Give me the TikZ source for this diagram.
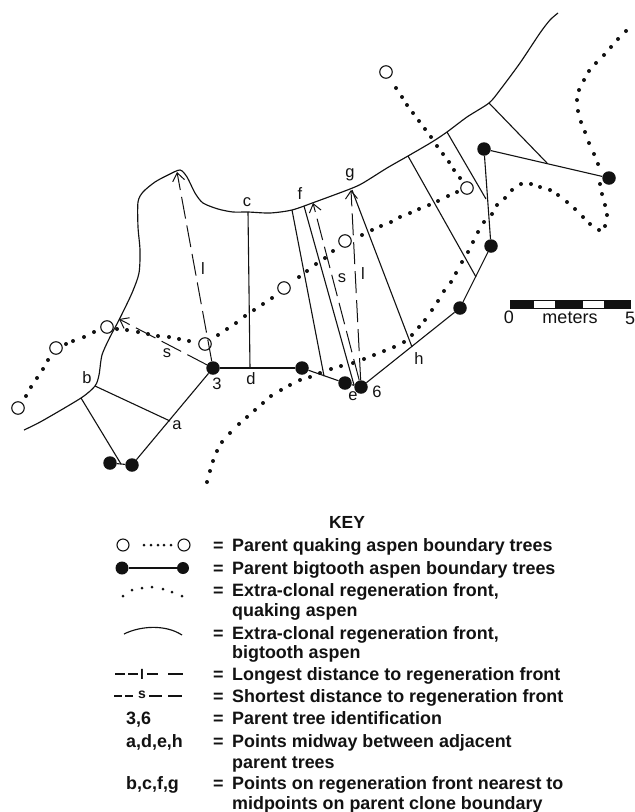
\documentclass[tikz,border=0pt]{standalone}
\usepackage{fontspec}
\setmainfont{Liberation Sans}
\usetikzlibrary{arrows.meta}
\definecolor{ink}{gray}{0.07}
\tikzset{
  x=1pt,y=-1pt,
  every node/.style={text=ink},
  hollowtree/.style={circle,draw=ink,fill=white,line width=1.1pt,minimum size=12.5pt,inner sep=0pt},
  bigtree/.style={circle,fill=ink,minimum size=13.5pt,inner sep=0pt},
  bigsmall/.style={circle,fill=ink,minimum size=12pt,inner sep=0pt},
  hollowsmall/.style={circle,draw=ink,fill=white,line width=1.1pt,minimum size=12pt,inner sep=0pt},
  frontline/.style={draw=ink,line width=1.15pt,line join=round},
  thinline/.style={draw=ink,line width=1.1pt},
  longdash/.style={draw=ink,line width=1pt,dash pattern=on 22pt off 7pt,-{Straight Barb[length=8pt,width=12pt,line width=1pt]}},
  keydash/.style={draw=ink,line width=1.1pt},
  maplabel/.style={font=\fontsize{16.5}{16.5}\selectfont,inner sep=0pt},
  scalelabel/.style={font=\fontsize{18}{18}\selectfont,inner sep=0pt},
  keytext/.style={font=\bfseries\fontsize{17.9}{20}\selectfont,anchor=base west,inner sep=0pt},
}
\newcommand{\dotsat}[1]{\foreach \p in {#1}{\fill[ink] \p circle (2pt);}}
\newcommand{\keydotsat}[1]{\foreach \p in {#1}{\fill[ink] \p circle (1.5pt);}}
\begin{document}
\begin{tikzpicture}
\useasboundingbox (0,0) rectangle (635,812);
% bigtooth regeneration front
\draw[frontline] plot[smooth,tension=0.45] coordinates {(24,430)(42,421)(81,398)(95,386)(99,375)(102,355)(110,337)(119,320)(132,293)(139,273)(140,250)(138,227)(138,202)(143,192)(155,182)(168,175)(180,170)(187,177)(195,193)(203,203)(218,209)(233,212)(248,212)(270,213)(292,210)(315,202)(350,189)(363,183)(387,168)(408,156)(432,142)(447,132)(467,117)(489,103)(500,90)(520,63)(540,33)(550,20)(558,13)};
% named points
\coordinate (pb) at (95,386);
\coordinate (pbb) at (81,398);
\coordinate (pa) at (170,421);
\coordinate (pab) at (121,464);
\coordinate (pc) at (248,212);
\coordinate (pd) at (250,368);
\coordinate (pf) at (292,210);
\coordinate (pe1) at (324,376);
\coordinate (pf2) at (304,206);
\coordinate (pe) at (354,385);
\coordinate (pg) at (352,190);
\coordinate (ph) at (412,347);
\coordinate (pn1) at (408,156);
\coordinate (pm1) at (476,277);
\coordinate (pn2) at (447,132);
\coordinate (pm2) at (486,199);
\coordinate (pn3) at (489,103);
\coordinate (pm3) at (547,163);
\coordinate (as) at (119,319);
\coordinate (al) at (177,172);
\coordinate (as2) at (313,203);
\coordinate (al2) at (351,190);
% quaking aspen dots
\dotsat{(26,396),(31,387),(37,378),(43,369),(48,360),(66,344),(73,341),(84,337),(94,332),(117,329),(127,330),(138,332),(148,334),(158,336),(169,337),(179,339),(189,341),(218,335),(227,329),(236,323),(245,316),(254,310),(263,304),(272,298),(299,277),(307,271),(316,264),(325,258),(333,251),(362,235),(372,230),(381,226),(391,222),(400,217),(410,213),(419,209),(429,205),(438,201),(448,196),(457,192),(396,88),(402,97),(407,105),(413,113),(419,121),(425,129),(431,137),(437,146),(443,154),(449,162),(454,170),(460,178)}
% regeneration front dots
\dotsat{(207,482),(210,471),(213,461),(217,451),(222,442),(230,433),(239,424),(247,417),(255,410),(263,403),(271,396),(281,390),(290,385),(300,380),(310,377),(320,373),(331,369),(341,366),(353,363),(364,359),(374,355),(384,351),(394,347),(404,342),(412,335),(419,327),(425,320),(432,310),(438,301),(444,291),(451,282),(456,273),(462,262),(468,252),(473,242),(478,232),(484,222),(492,214),(497,205),(505,198),(512,190),(521,184),(531,184),(540,187),(550,190),(558,195),(567,202),(575,209),(583,217),(590,224),(599,230),(605,226),(607,215),(605,205),(602,194),(600,184),(598,164),(594,154),(589,143),(585,132),(581,122),(578,111),(577,100),(579,90),(584,80),(589,71),(596,63),(604,55),(611,47),(618,39),(626,31)}
% hollow trees
\node[hollowtree] (q1) at (18,408) {};
\node[hollowtree] (q2) at (56,348) {};
\node[hollowtree] (q3) at (107,327) {};
\node[hollowtree] (q4) at (205,344) {};
\node[hollowtree] (q5) at (284,288) {};
\node[hollowtree] (q6) at (345,241) {};
\node[hollowtree] (q7) at (467,188) {};
\node[hollowtree] (q8) at (386,72) {};
% bigtooth trees
\node[bigtree] (t1) at (110,463) {};
\node[bigtree] (t2) at (132,465) {};
\node[bigtree] (t3) at (213,368) {};
\node[bigtree] (t4) at (302,368) {};
\node[bigtree] (t5) at (345,383) {};
\node[bigtree] (t6) at (361,387) {};
\node[bigtree] (t7) at (460,308) {};
\node[bigtree] (t8) at (491,246) {};
\node[bigtree] (t9) at (484,149) {};
\node[bigtree] (t10) at (609,178) {};
\draw[thinline] (t1)--(t2);
\draw[thinline] (t2)--(t3);
\draw[thinline] (t3)--(t4);
\draw[thinline] (t4)--(t5);
\draw[thinline] (t5)--(t6);
\draw[thinline] (t6)--(t7);
\draw[thinline] (t7)--(t8);
\draw[thinline] (t8)--(t9);
\draw[thinline] (t9)--(t10);
% perpendiculars
\draw[thinline] (pb)--(pa);
\draw[thinline] (pbb)--(pab);
\draw[thinline] (pc)--(pd);
\draw[thinline] (pf)--(pe1);
\draw[thinline] (pf2)--(pe);
\draw[thinline] (pg)--(ph);
\draw[thinline] (pn1)--(pm1);
\draw[thinline] (pn2)--(pm2);
\draw[thinline] (pn3)--(pm3);
% distances
\draw[longdash] (t3)--(al);
\draw[longdash] (t3)--(as);
\draw[longdash] (t6)--(as2);
\draw[longdash] (t6)--(al2);
% labels
\node[maplabel] (lb) at (87,378) {b};
\node[maplabel] (la) at (177,425) {a};
\node[maplabel] (l3) at (217,384) {3};
\node[maplabel] (ld) at (251,379) {d};
\node[maplabel] (lc) at (247,202) {c};
\node[maplabel] (lf) at (300,194) {f};
\node[maplabel] (lg) at (350,175) {g};
\node[maplabel] (le) at (353,396) {e};
\node[maplabel] (l6) at (377,392) {6};
\node[maplabel] (lh) at (419,359) {h};
\node[maplabel] (ll1) at (203,269) {l};
\node[maplabel] (ls1) at (167,353) {s};
\node[maplabel] (ls2) at (342,278) {s};
\node[maplabel] (ll2) at (363,274) {l};
% scale bar
\fill[ink] (510,300) rectangle (534,308);
\fill[ink] (555,300) rectangle (583,308);
\fill[ink] (604,300) rectangle (630,308);
\draw[ink,line width=0.7pt] (510,300) rectangle (630,308);
\node[scalelabel] (s0) at (509,317) {0};
\node[scalelabel] (sm) at (570,318) {meters};
\node[scalelabel] (s5) at (630,318) {5};
% key
\node[font=\bfseries\fontsize{17.5}{17.5}\selectfont,inner sep=0pt] (key) at (347,522) {KEY};
\node[hollowsmall] (kq1) at (123,545) {};
\node[hollowsmall] (kq2) at (184,545) {};
\keydotsat{(144,545),(151,545),(158,545),(164,545),(171,545)}
\node[bigsmall,minimum size=13pt] (kb1) at (122,568) {};
\node[bigsmall] (kb2) at (183,568) {};
\draw[thinline] (kb1)--(kb2);
\keydotsat{(123,596),(132,590),(142,588),(152,587),(163,589),(172,592),(182,596)}
\coordinate (kf1) at (124,634);
\coordinate (kf2) at (182,635);
\draw[frontline] (kf1) .. controls (140,626) and (165,624) .. (kf2);
\draw[keydash] (115,674)--(125,674) (128,674)--(138,674) (147,674)--(158,674) (168,674)--(183,674);
\node[font=\bfseries\fontsize{14}{14}\selectfont,inner sep=0pt] (kl) at (142,674) {l};
\draw[keydash] (114,696)--(122,696) (125,696)--(133,696) (149,696)--(162,696) (168,696)--(182,696);
\node[font=\bfseries\fontsize{14}{14}\selectfont,inner sep=0pt] (ks) at (142,695) {s};
\foreach \n/\y/\t in {
 a/551/Parent quaking aspen boundary trees,
 b/574/Parent bigtooth aspen boundary trees,
 c/596/Extra-clonal regeneration front{,},
 e/639/Extra-clonal regeneration front{,},
 g/680/Longest distance to regeneration front,
 h/702/Shortest distance to regeneration front,
 i/724/Parent tree identification,
 j/747/Points midway between adjacent,
 l/789/Points on regeneration front nearest to}{
  \node[keytext] (eq\n) at (213,\y) {=};
  \node[keytext] (tx\n) at (232,\y) {\t};
}
\node[keytext] (txd) at (232,616) {quaking aspen};
\node[keytext] (txf) at (232,658) {bigtooth aspen};
\node[keytext] (txk) at (232,768) {parent trees};
\node[keytext] (txm) at (232,809) {midpoints on parent clone boundary};
\node[keytext] (id1) at (126,724) {3,6};
\node[keytext] (id2) at (126,747) {a,d,e,h};
\node[keytext] (id3) at (126,789) {b,c,f,g};
\end{tikzpicture}
\end{document}
